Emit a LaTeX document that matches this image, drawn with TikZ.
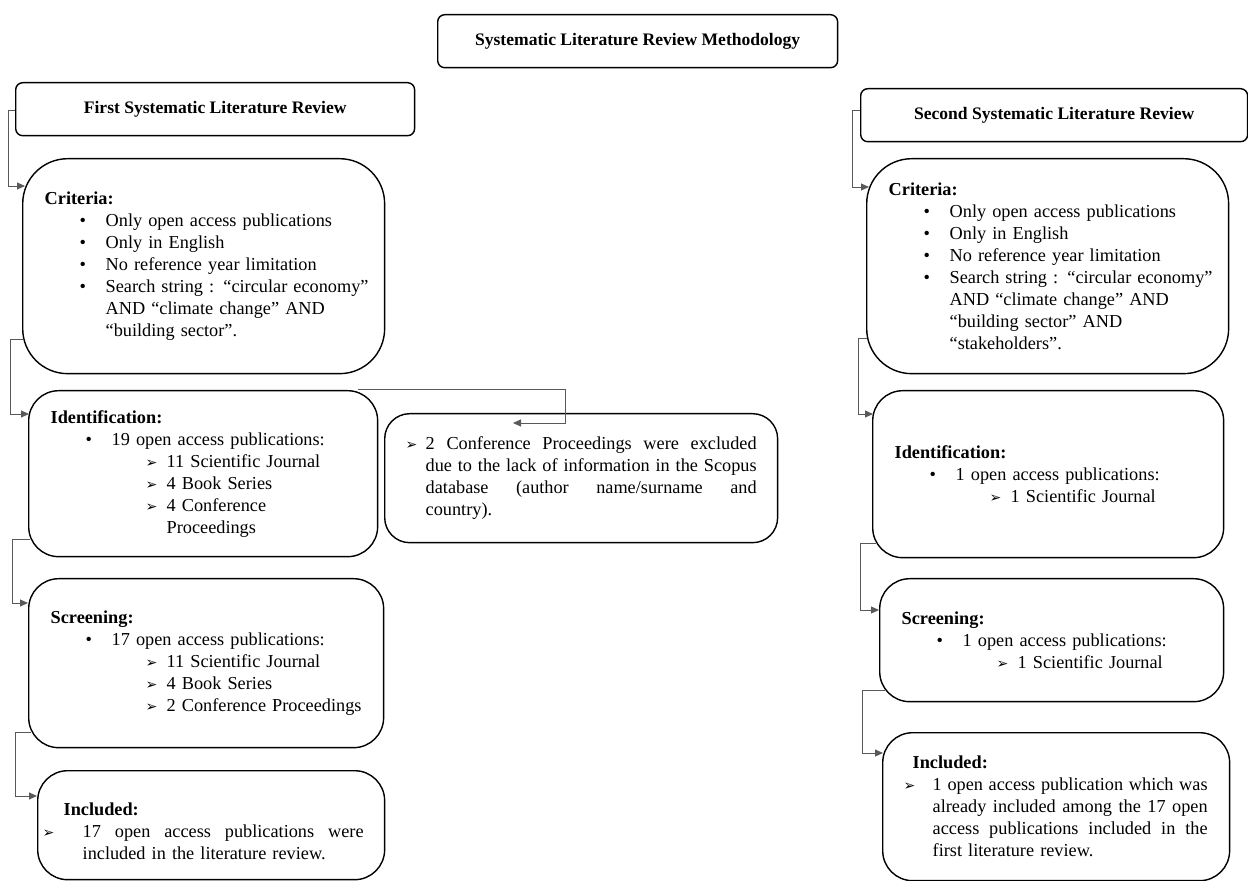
\documentclass[tikz,border=0pt]{standalone}
\usepackage{fontspec}
\setmainfont{Liberation Serif}
\newfontfamily\symfont{DejaVu Sans}
\usetikzlibrary{positioning,arrows.meta,calc}

\newcommand{\arrmark}{{\symfont\fontsize{8}{8}\selectfont ➢}}
\newcommand{\bulitem}[1]{\hspace*{0.7cm}\makebox[0.52cm][l]{\textbullet}\mbox{#1}}
\newcommand{\bulcont}[1]{\hspace*{1.22cm}\mbox{#1}}
\newcommand{\arritem}[1]{\hspace*{1.9cm}\makebox[0.42cm][l]{\arrmark}\mbox{#1}}
\newcommand{\arrcont}[1]{\hspace*{2.32cm}\mbox{#1}}
\newcommand{\jline}[2]{\hbox to #1{\spaceskip=0.25em plus 1fil\relax #2}}

\begin{document}
\begin{tikzpicture}[
    x=0.02cm, y=-0.02cm,
    headbox/.style={draw, line width=0.8pt, rounded corners=4pt, anchor=north west, inner sep=0pt, align=center, font=\fontsize{10}{12}\selectfont\bfseries},
    stagebox/.style={draw, line width=0.8pt, rounded corners=0.6cm, anchor=north west, inner xsep=0.44cm, inner ysep=0pt, align=left, font=\fontsize{10.4}{12.5}\selectfont},
    critbox/.style={stagebox, rounded corners=0.9cm},
    conn/.style={draw=black!65, line width=0.5pt, -{Triangle[length=1.6mm, width=1.4mm]}},
]
\useasboundingbox (0,0) rectangle (1248,881);

% Headers
\node[headbox, minimum width=8cm, minimum height=1.06cm] (title) at (437,14) {Systematic Literature Review Methodology};
\node[headbox, minimum width=7.98cm, minimum height=1.06cm] (fhead) at (15,82) {First Systematic Literature Review};
\node[headbox, minimum width=7.74cm, minimum height=1.06cm] (shead) at (860,88) {Second Systematic Literature Review};

% First review
\node[critbox, minimum width=7.24cm, minimum height=4.3cm, text width=6.36cm] (crit1) at (22,158) {\textbf{Criteria:}\\
  \bulitem{Only open access publications}\\
  \bulitem{Only in English}\\
  \bulitem{No reference year limitation}\\
  \bulitem{Search string : “circular economy”}\\
  \bulcont{AND “climate change” AND}\\
  \bulcont{“building sector”.}};
\node[stagebox, minimum width=6.98cm, minimum height=3.32cm, text width=6.10cm] (ident1) at (28,390) {\textbf{Identification:}\\
  \bulitem{19 open access publications:}\\
  \arritem{11 Scientific Journal}\\
  \arritem{4 Book Series}\\
  \arritem{4 Conference}\\
  \arrcont{Proceedings}};
\node[stagebox, rounded corners=0.5cm, inner xsep=0.42cm, minimum width=7.86cm, minimum height=2.58cm, text width=7.02cm] (excl) at (384,413) {\makebox[0.4cm][l]{\arrmark}\jline{6.62cm}{2 Conference Proceedings were excluded}\\
  \hspace*{0.4cm}\jline{6.62cm}{due to the lack of information in the Scopus}\\
  \hspace*{0.4cm}\jline{6.62cm}{database (author name/surname and}\\
  \hspace*{0.4cm}country).};
\node[stagebox, minimum width=7.1cm, minimum height=3.38cm, text width=6.22cm] (screen1) at (28,578) {\textbf{Screening:}\\
  \bulitem{17 open access publications:}\\
  \arritem{11 Scientific Journal}\\
  \arritem{4 Book Series}\\
  \arritem{2 Conference Proceedings}};
\node[stagebox, inner xsep=0.1cm, minimum width=6.94cm, minimum height=2.18cm, text width=6.74cm] (incl1) at (37,770) {\rule{0pt}{0.5cm}\hspace*{0.42cm}\textbf{Included:}\\
  \makebox[0.8cm][l]{\arrmark}\jline{5.62cm}{17 open access publications were}\\
  \hspace*{0.8cm}included in the literature review.};

% Second review
\node[critbox, minimum width=7.24cm, minimum height=4.3cm, text width=6.36cm] (crit2) at (866,158) {\textbf{Criteria:}\\
  \bulitem{Only open access publications}\\
  \bulitem{Only in English}\\
  \bulitem{No reference year limitation}\\
  \bulitem{Search string : “circular economy”}\\
  \bulcont{AND “climate change” AND}\\
  \bulcont{“building sector” AND}\\
  \bulcont{“stakeholders”.}};
\node[stagebox, minimum width=7.02cm, minimum height=3.34cm, text width=6.14cm] (ident2) at (872,390) {\textbf{Identification:}\\
  \bulitem{1 open access publications:}\\
  \arritem{1 Scientific Journal}};
\node[stagebox, minimum width=6.88cm, minimum height=2.46cm, text width=6.0cm] (screen2) at (879,578) {\textbf{Screening:}\\
  \bulitem{1 open access publications:}\\
  \arritem{1 Scientific Journal}};
\node[stagebox, inner xsep=0.42cm, minimum width=6.94cm, minimum height=2.96cm, text width=6.1cm] (incl2) at (882,732) {\hspace*{0.18cm}\textbf{Included:}\\
  \makebox[0.58cm][l]{\arrmark}\jline{5.5cm}{1 open access publication which was}\\
  \hspace*{0.58cm}\jline{5.5cm}{already included among the 17 open}\\
  \hspace*{0.58cm}\jline{5.5cm}{access publications included in the}\\
  \hspace*{0.58cm}first literature review.};

% Arrows: first review
\draw[conn] ($(fhead.north west)+(0,28)$) -- ++(-7,0) |- ($(crit1.north west)+(3,28)$);
\draw[conn] ($(crit1.south west)+(1,-35)$) -- ++(-13,0) |- ($(ident1.north west)+(1,24)$);
\draw[conn] ($(ident1.south west)+(2,-18)$) -- ++(-18,0) |- ($(screen1.north west)+(0,25)$);
\draw[conn] ($(screen1.south west)+(3,-16)$) -- ++(-16,0) |- ($(incl1.north west)+(0,26)$);

% Exclusion branch
\draw[conn] ($(ident1.north east)+(-20,-1)$) -- ++(207,0) |- ($(excl.north west)+(129,10)$);

% Arrows: second review
\draw[conn] ($(shead.north west)+(0,22)$) -- ++(-8,0) |- ($(crit2.north west)+(3,29)$);
\draw[conn] ($(crit2.south west)+(1,-36)$) -- ++(-9,0) |- ($(ident2.north west)+(1,24)$);
\draw[conn] ($(ident2.south west)+(4,-15)$) -- ++(-16,0) |- ($(screen2.north west)+(0,32)$);
\draw[conn] ($(screen2.south west)+(6,-12)$) -- ++(-23,0) |- ($(incl2.north west)+(1,21)$);

\end{tikzpicture}
\end{document}
